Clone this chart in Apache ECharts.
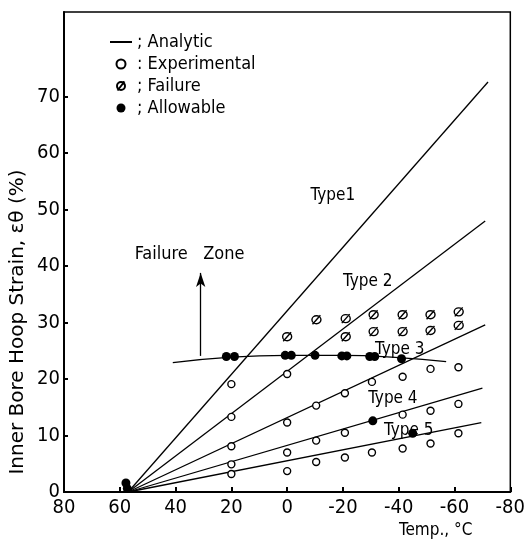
<!DOCTYPE html>
<html>
<head>
<meta charset="utf-8">
<script src="https://cdn.jsdelivr.net/npm/echarts@6/dist/echarts.min.js"></script>
<style>
  html, body { margin: 0; padding: 0; background: #fff; }
  #main { width: 528px; height: 541px; }
</style>
</head>
<body>
<div id="main"></div>
<script>
// 数据
var origin = [57, 0];
var lineNames = ['Type1', 'Type 2', 'Type 3', 'Type 4', 'Type 5'];
var lineEnds = [[-72, 72.6], [-71, 48], [-71, 29.6], [-70, 18.4], [-69.6, 12.3]];
var labelPos = [[-16.4, 52.5], [-28.9, 37.2], [-40.4, 25.3], [-37.9, 16.5], [-43.6, 10.9]];

var experimental = [
  [20, 19.1], [20, 13.3], [20, 8.1], [20, 4.9], [20, 3.2],
  [0, 20.9], [0, 12.3], [0, 7.0], [0, 3.7],
  [-10.4, 15.3], [-10.4, 9.1], [-10.4, 5.3],
  [-20.7, 17.5], [-20.7, 10.5], [-20.7, 6.1],
  [-30.4, 19.5], [-30.4, 7.0],
  [-41.4, 20.4], [-41.4, 13.7], [-41.4, 7.7],
  [-51.4, 21.8], [-51.4, 14.4], [-51.4, 8.6],
  [-61.4, 22.1], [-61.4, 15.6], [-61.4, 10.4]
];
var failure = [
  [0, 27.5], [-10.5, 30.5],
  [-21, 30.7], [-21, 27.5],
  [-31, 31.4], [-31, 28.4],
  [-41.4, 31.4], [-41.4, 28.4],
  [-51.4, 31.4], [-51.4, 28.6],
  [-61.5, 31.9], [-61.5, 29.5]
];
var allowable = [
  [21.8, 24], [18.9, 24], [0.7, 24.2], [-1.5, 24.2], [-10, 24.2],
  [-19.6, 24.1], [-21.4, 24.1], [-29.6, 24], [-31.4, 24], [-41, 23.6],
  [-30.7, 12.6], [-45, 10.4], [57.8, 1.6], [57.3, 0.6]
];
var zoneLine = [[41, 22.9], [20, 23.9], [0, 24.2], [-20, 24.2], [-40, 23.8], [-57, 23.1]];
var zoneArrow = [[31, 24.1], [31, 38.8]];
var zoneLabel = [35, 42.1];
var yTicks = [0, 10, 20, 30, 40, 50, 60, 70];

var FONT = 'DejaVu Sans Condensed';
var failPath = 'path://M1,5A4,4 0 1,1 9,5A4,4 0 1,1 1,5Z M1.5,9.5L8.5,0.5';

var chart = echarts.init(document.getElementById('main'));

// 文字标签
function textLabel(txt, size) {
  return {
    show: true, position: 'inside', formatter: txt,
    color: '#000', fontFamily: FONT, fontSize: size,
    textBorderWidth: 0
  };
}

var series = [];
lineNames.forEach(function (n, i) {
  series.push({
    name: 'Analytic',
    type: 'line',
    data: [origin, lineEnds[i]],
    symbol: 'none',
    itemStyle: { color: '#000' },
    lineStyle: { color: '#000', width: 1.3 },
    z: 2
  });
  series.push({
    type: 'scatter',
    data: [labelPos[i]],
    symbolSize: 0,
    silent: true,
    itemStyle: { color: '#000', opacity: 1 },
    label: textLabel(n, 17),
    z: 5
  });
});
series.push({
  type: 'line', data: zoneLine, smooth: true, symbol: 'none',
  itemStyle: { color: '#000' },
  lineStyle: { color: '#000', width: 1.3 },
  markLine: {
    silent: true,
    symbol: ['none', 'arrow'],
    symbolSize: [7, 14],
    label: { show: false },
    lineStyle: { color: '#000', type: 'solid', width: 1.3 },
    data: [[{ coord: zoneArrow[0] }, { coord: zoneArrow[1] }]]
  }
});
series.push({
  type: 'scatter', data: [zoneLabel], symbolSize: 0, silent: true,
  itemStyle: { color: '#000', opacity: 1 },
  label: textLabel('Failure   Zone', 18)
});
series.push({
  name: 'Experimental', type: 'scatter', data: experimental, symbol: 'circle', symbolSize: 7,
  itemStyle: { color: '#fff', borderColor: '#000', borderWidth: 1.4, opacity: 1 }, z: 4
});
series.push({
  name: 'Failure', type: 'scatter', data: failure, symbol: failPath, symbolSize: 9,
  itemStyle: { color: '#fff', borderColor: '#000', borderWidth: 1.4, opacity: 1 }, z: 4
});
series.push({
  name: 'Allowable', type: 'scatter', data: allowable, symbol: 'circle', symbolSize: 9,
  itemStyle: { color: '#000', opacity: 1 }, z: 4
});

var legendSep = { 'Analytic': '; ', 'Experimental': ': ', 'Failure': '; ', 'Allowable': '; ' };

chart.setOption({
  animation: false,
  backgroundColor: '#fff',
  grid: {
    left: 64, right: 8, top: 12, bottom: 49,
    show: true, borderColor: '#000', borderWidth: 1.5
  },
  legend: {
    orient: 'vertical', left: 104, top: 28, itemGap: 4,
    itemWidth: 22, itemHeight: 9,
    data: [
      { name: 'Analytic', itemStyle: { opacity: 0 } },
      'Experimental', 'Failure', 'Allowable'
    ],
    formatter: function (n) { return legendSep[n] + n; },
    textStyle: { color: '#000', fontFamily: FONT, fontSize: 18 },
    selectedMode: false
  },
  xAxis: {
    type: 'value', inverse: true, min: -80, max: 80, interval: 20,
    splitLine: { show: false },
    axisLine: { onZero: false, lineStyle: { color: '#000', width: 2 } },
    axisTick: { inside: true, length: 5, lineStyle: { color: '#000', width: 2 } },
    axisLabel: { color: '#000', fontFamily: FONT, fontSize: 20, margin: 6 }
  },
  yAxis: {
    type: 'value', min: 0, max: 85, interval: 10,
    splitLine: { show: false },
    axisLine: { onZero: false, lineStyle: { color: '#000', width: 2 } },
    axisTick: { inside: true, length: 4, customValues: yTicks, lineStyle: { color: '#000', width: 2 } },
    axisLabel: { color: '#000', fontFamily: FONT, fontSize: 20, margin: 4, customValues: yTicks }
  },
  graphic: [{
    type: 'text', x: 18, y: 322, rotation: Math.PI / 2,
    style: {
      text: 'Inner Bore Hoop Strain, \u03b5\u03b8 (%)', fill: '#000',
      font: '20px "DejaVu Sans"', align: 'center', verticalAlign: 'middle'
    }
  }, {
    type: 'text', left: 399, top: 522,
    style: { text: 'Temp., \u00b0C', fill: '#000', font: '17px "' + FONT + '"' }
  }],
  series: series
});
</script>
</body>
</html>
